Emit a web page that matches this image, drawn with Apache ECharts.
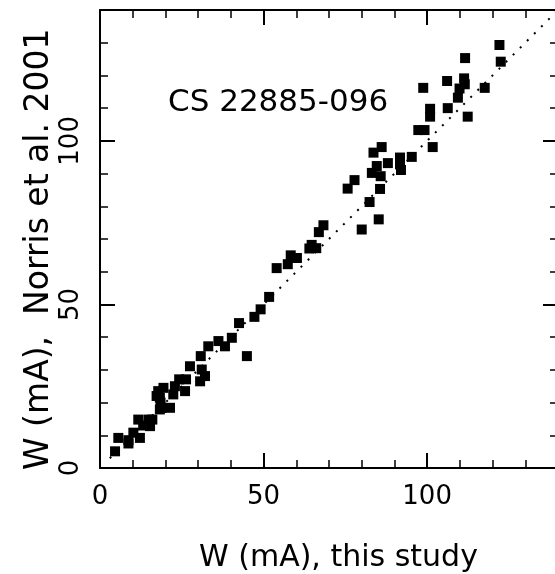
<!DOCTYPE html>
<html>
<head>
<meta charset="utf-8">
<title>CS 22885-096</title>
<script src="https://cdn.jsdelivr.net/npm/echarts@6/dist/echarts.min.js"></script>
<style>
  html, body { margin: 0; padding: 0; background: #fff; }
  #chart { width: 555px; height: 574px; }
</style>
</head>
<body>
<div id="chart"></div>
<script>
// equivalent widths: this study (x) vs Norris et al. 2001 (y), mA
const wThisStudy = [
  4.6, 5.6, 8.7, 8.7, 10.2, 12.2, 11.7, 13.2, 14.8, 15.3, 16.0, 17.8, 17.3, 18.3,
  19.4, 18.3, 18.9, 21.4, 18.5, 22.4, 22.9, 24.2, 26.0, 26.3, 27.5, 30.6, 30.8,
  31.1, 32.1, 33.1, 36.2, 38.2, 40.3, 42.5, 44.9, 47.2, 49.1, 51.7, 54.0, 57.4,
  58.3, 60.2, 64.0, 64.7, 66.1, 66.9, 68.3, 75.7, 77.8, 80.0, 82.4, 83.1, 83.6,
  84.6, 85.2, 85.6, 85.8, 86.1, 88.0, 91.7, 91.7, 92.0, 95.3, 97.3, 99.2, 98.8,
  100.9, 100.9, 101.7, 106.1, 106.3, 109.4, 109.9, 111.3, 111.5, 111.6, 112.4,
  117.6, 122.1, 122.5
];
const wNorris = [
  5.1, 9.2, 7.5, 8.5, 10.8, 9.2, 14.8, 13.0, 14.8, 12.8, 14.8, 23.5, 22.0, 21.5,
  24.5, 17.9, 18.4, 18.4, 20.0, 22.5, 25.0, 27.1, 23.5, 27.1, 31.1, 26.5, 34.2,
  30.1, 28.1, 37.2, 38.8, 37.2, 39.8, 44.3, 34.2, 46.2, 48.5, 52.3, 61.1, 62.3,
  65.0, 64.2, 67.1, 68.2, 67.2, 72.1, 74.2, 85.4, 88.0, 72.9, 81.3, 90.2, 96.4,
  92.3, 76.0, 85.3, 89.2, 98.1, 93.2, 94.9, 92.8, 91.1, 95.1, 103.3, 103.3, 116.2,
  107.4, 109.8, 98.1, 118.3, 110.0, 113.2, 116.0, 119.1, 117.3, 125.3, 107.4,
  116.2, 129.3, 124.2
];
const oneToOne = [[3, 3], [140, 140]];
const starName = 'CS 22885-096';
const xTitle = 'W (mA), this study';
const yTitle = 'W (mA),  Norris et al. 2001';

const points = wThisStudy.map((x, i) => [x, wNorris[i]]);

const FONT = 'DejaVu Sans';

// one axis = frame side with long ticks, a second one on top of it for the short ticks
function axis(position, major, extra) {
  return Object.assign({
    type: 'value',
    position: position,
    min: 0,
    max: 140,
    interval: major ? 50 : 10,
    axisLine: { show: major, onZero: false, lineStyle: { color: '#000', width: 2 } },
    axisTick: {
      show: true,
      inside: true,
      length: major ? 15 : 8,
      lineStyle: { color: '#000', width: major ? 2 : 1.5 }
    },
    axisLabel: { show: false },
    splitLine: { show: false }
  }, extra || {});
}

const labelStyle = {
  show: true,
  color: '#000',
  fontFamily: FONT,
  fontSize: 26,
  showMaxLabel: false
};

const myChart = echarts.init(document.getElementById('chart'));
const chartOption = {
  animation: false,
  backgroundColor: '#fff',
  textStyle: { fontFamily: FONT },
  title: {
    text: starName,
    left: 163,
    top: 82,
    textStyle: { color: '#000', fontFamily: FONT, fontSize: 31, fontWeight: 'normal' }
  },
  // axis titles placed by hand from where they start, the reference has them off-centre
  graphic: [
    {
      type: 'text',
      x: 199,
      y: 558,
      style: { text: xTitle, font: '30px "DejaVu Sans"', fill: '#000', align: 'left', verticalAlign: 'middle' }
    },
    {
      type: 'text',
      x: 39,
      y: 470,
      rotation: Math.PI / 2,
      style: { text: yTitle, font: '33px "DejaVu Sans"', fill: '#000', align: 'left', verticalAlign: 'middle' }
    }
  ],
  grid: {
    left: 100,
    top: 10,
    width: 458,
    height: 458,
    outerBoundsMode: 'none',
    containLabel: false
  },
  xAxis: [
    axis('bottom', true, {
      axisLabel: Object.assign({ margin: 16 }, labelStyle)
    }),
    axis('bottom', false),
    axis('top', true),
    axis('top', false)
  ],
  yAxis: [
    axis('left', true, {
      axisLabel: Object.assign({ margin: 16, rotate: 90 }, labelStyle)
    }),
    axis('left', false),
    axis('right', true),
    axis('right', false)
  ],
  series: [
    {
      type: 'line',
      data: oneToOne,
      symbol: 'none',
      silent: true,
      lineStyle: { color: '#000', width: 2, type: [2, 8] }
    },
    {
      type: 'scatter',
      data: points,
      symbol: 'rect',
      symbolSize: 10,
      itemStyle: { color: '#000', opacity: 1 }
    }
  ]
};
myChart.setOption(chartOption);
</script>
</body>
</html>
